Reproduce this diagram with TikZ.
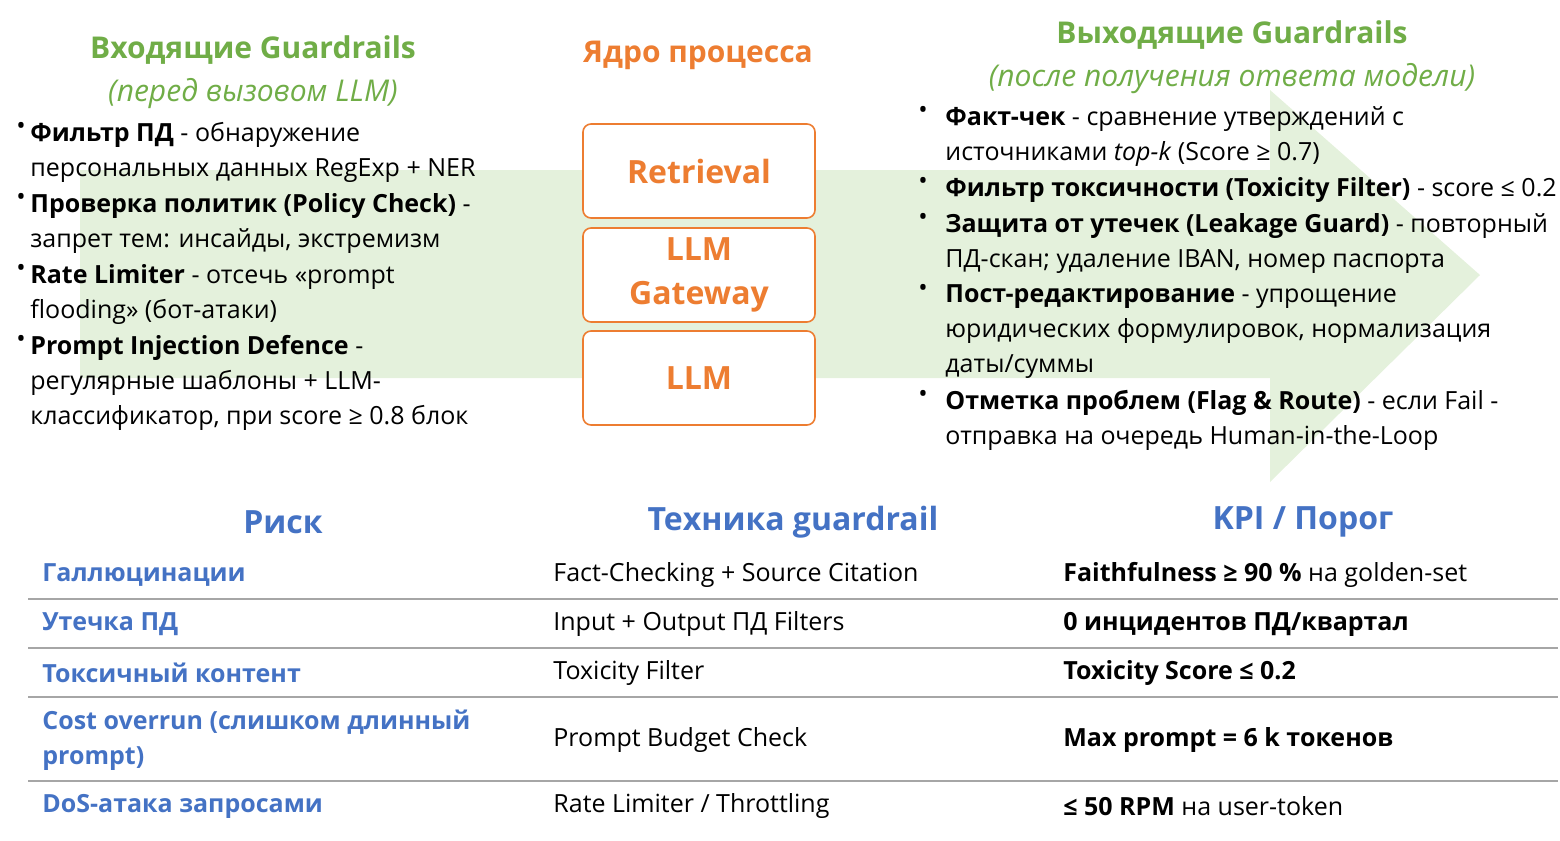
\documentclass[tikz,border=0pt]{standalone}
\usepackage{fontspec}
\setmainfont{Open Sans}
\definecolor{gr}{HTML}{70AD47}
\definecolor{lg}{HTML}{E4F1DC}
\definecolor{org}{HTML}{ED7D31}
\definecolor{bl}{HTML}{4472C4}
\begin{document}
\begin{tikzpicture}[x=0.5pt,y=-0.5pt,
 body/.style={anchor=north west,inner sep=0pt,align=left,font=\fontsize{12.5}{17.5}\selectfont},
 bul/.style={anchor=north west,inner sep=0pt,font=\fontsize{12.5}{17.5}\selectfont},
 gt/.style={text=gr,font=\fontsize{15}{18}\selectfont\bfseries},
 gi/.style={text=gr,font=\fontsize{15}{18}\selectfont\itshape},
 box/.style={draw=org,line width=0.8pt,rounded corners=4pt,fill=white,minimum width=116pt,minimum height=47pt,text=org,align=center,font=\fontsize{16}{22}\selectfont\bfseries},
 hd/.style={text=bl,font=\fontsize{16}{20}\selectfont\bfseries},
 rk/.style={anchor=west,inner sep=0pt,text=bl,align=left,font=\fontsize{12.5}{17.5}\selectfont\bfseries},
 cl/.style={anchor=west,inner sep=0pt,align=left,font=\fontsize{12.5}{17.5}\selectfont},
 sep/.style={draw=gray!70,line width=0.6pt}]
\useasboundingbox (0,0) rectangle (1560,841);
\fill[lg] (80,170) -- (1270,170) -- (1270,90) -- (1480,275) -- (1270,482) -- (1270,378) -- (80,378) -- cycle;
\node[gt] (t1) at (253,50) {Входящие Guardrails};
\node[gi] (t2) at (253,94) {(перед вызовом LLM)};
\node[text=org,font=\fontsize{15}{18}\selectfont\bfseries] (t3) at (698,55) {Ядро процесса};
\node[gt] (t4) at (1232,35) {Выходящие Guardrails};
\node[gi] (t5) at (1232,79) {(после получения ответа модели)};
\node[box] (b1) at (699,171) {Retrieval};
\node[box] (b2) at (699,275) {LLM\\Gateway};
\node[box] (b3) at (699,378) {LLM};
% left bullets
\foreach \y/\n in {122/a,193/b,264/c,335/d} \node[bul] (lb\n) at (16,\y) {•};
\node[body] (l1) at (30,122) {\textbf{Фильтр ПД} - обнаружение\\персональных данных RegExp + NER};
\node[body] (l2) at (30,193) {\textbf{Проверка политик (Policy Check)} -\\запрет тем: инсайды, экстремизм};
\node[body] (l3) at (30,264) {\textbf{Rate Limiter} - отсечь «prompt\\flooding» (бот-атаки)};
\node[body] (l4) at (30,335) {\textbf{Prompt Injection Defence} -\\регулярные шаблоны + LLM-\\классификатор, при score ≥ 0.8 блок};
% right bullets
\foreach \y/\n in {106/a,177/b,213/c,284/d,390/e} \node[bul] (rb\n) at (918,\y) {•};
\node[body] (r1) at (945,106) {\textbf{Факт-чек} - сравнение утверждений с\\источниками \textit{top-k} (Score ≥ 0.7)};
\node[body] (r2) at (945,177) {\textbf{Фильтр токсичности (Toxicity Filter)} - score ≤ 0.2};
\node[body] (r3) at (945,213) {\textbf{Защита от утечек (Leakage Guard)} - повторный\\ПД-скан; удаление IBAN, номер паспорта};
\node[body] (r4) at (945,284) {\textbf{Пост-редактирование} - упрощение\\юридических формулировок, нормализация\\даты/суммы};
\node[body] (r5) at (945,390) {\textbf{Отметка проблем (Flag \& Route)} - если Fail -\\отправка на очередь Human-in-the-Loop};
% table
\node[hd] (h1) at (283,522) {Риск};
\node[hd] (h2) at (793,522) {Техника guardrail};
\node[hd] (h3) at (1303,522) {KPI / Порог};
\node[rk] (k1) at (42,575) {Галлюцинации};
\node[cl] (m1) at (553,575) {Fact-Checking + Source Citation};
\node[cl] (p1) at (1063,575) {\textbf{Faithfulness ≥ 90 \%} на golden-set};
\node[rk] (k2) at (42,624) {Утечка ПД};
\node[cl] (m2) at (553,624) {Input + Output ПД Filters};
\node[cl] (p2) at (1063,624) {\textbf{0 инцидентов ПД/квартал}};
\node[rk] (k3) at (42,673) {Токсичный контент};
\node[cl] (m3) at (553,673) {Toxicity Filter};
\node[cl] (p3) at (1063,673) {\textbf{Toxicity Score ≤ 0.2}};
\node[rk] (k4) at (42,740) {Cost overrun (слишком длинный\\prompt)};
\node[cl] (m4) at (553,740) {Prompt Budget Check};
\node[cl] (p4) at (1063,740) {\textbf{Max prompt = 6 k токенов}};
\node[rk] (k5) at (42,806) {DoS-атака запросами};
\node[cl] (m5) at (553,806) {Rate Limiter / Throttling};
\node[cl] (p5) at (1063,806) {\textbf{≤ 50 RPM} на user-token};
\coordinate (s1a) at (28,599); \coordinate (s1b) at (1558,599);
\coordinate (s2a) at (28,648); \coordinate (s2b) at (1558,648);
\coordinate (s3a) at (28,697); \coordinate (s3b) at (1558,697);
\coordinate (s4a) at (28,781); \coordinate (s4b) at (1558,781);
\draw[sep] (s1a) -- (s1b); \draw[sep] (s2a) -- (s2b);
\draw[sep] (s3a) -- (s3b); \draw[sep] (s4a) -- (s4b);
\end{tikzpicture}
\end{document}
